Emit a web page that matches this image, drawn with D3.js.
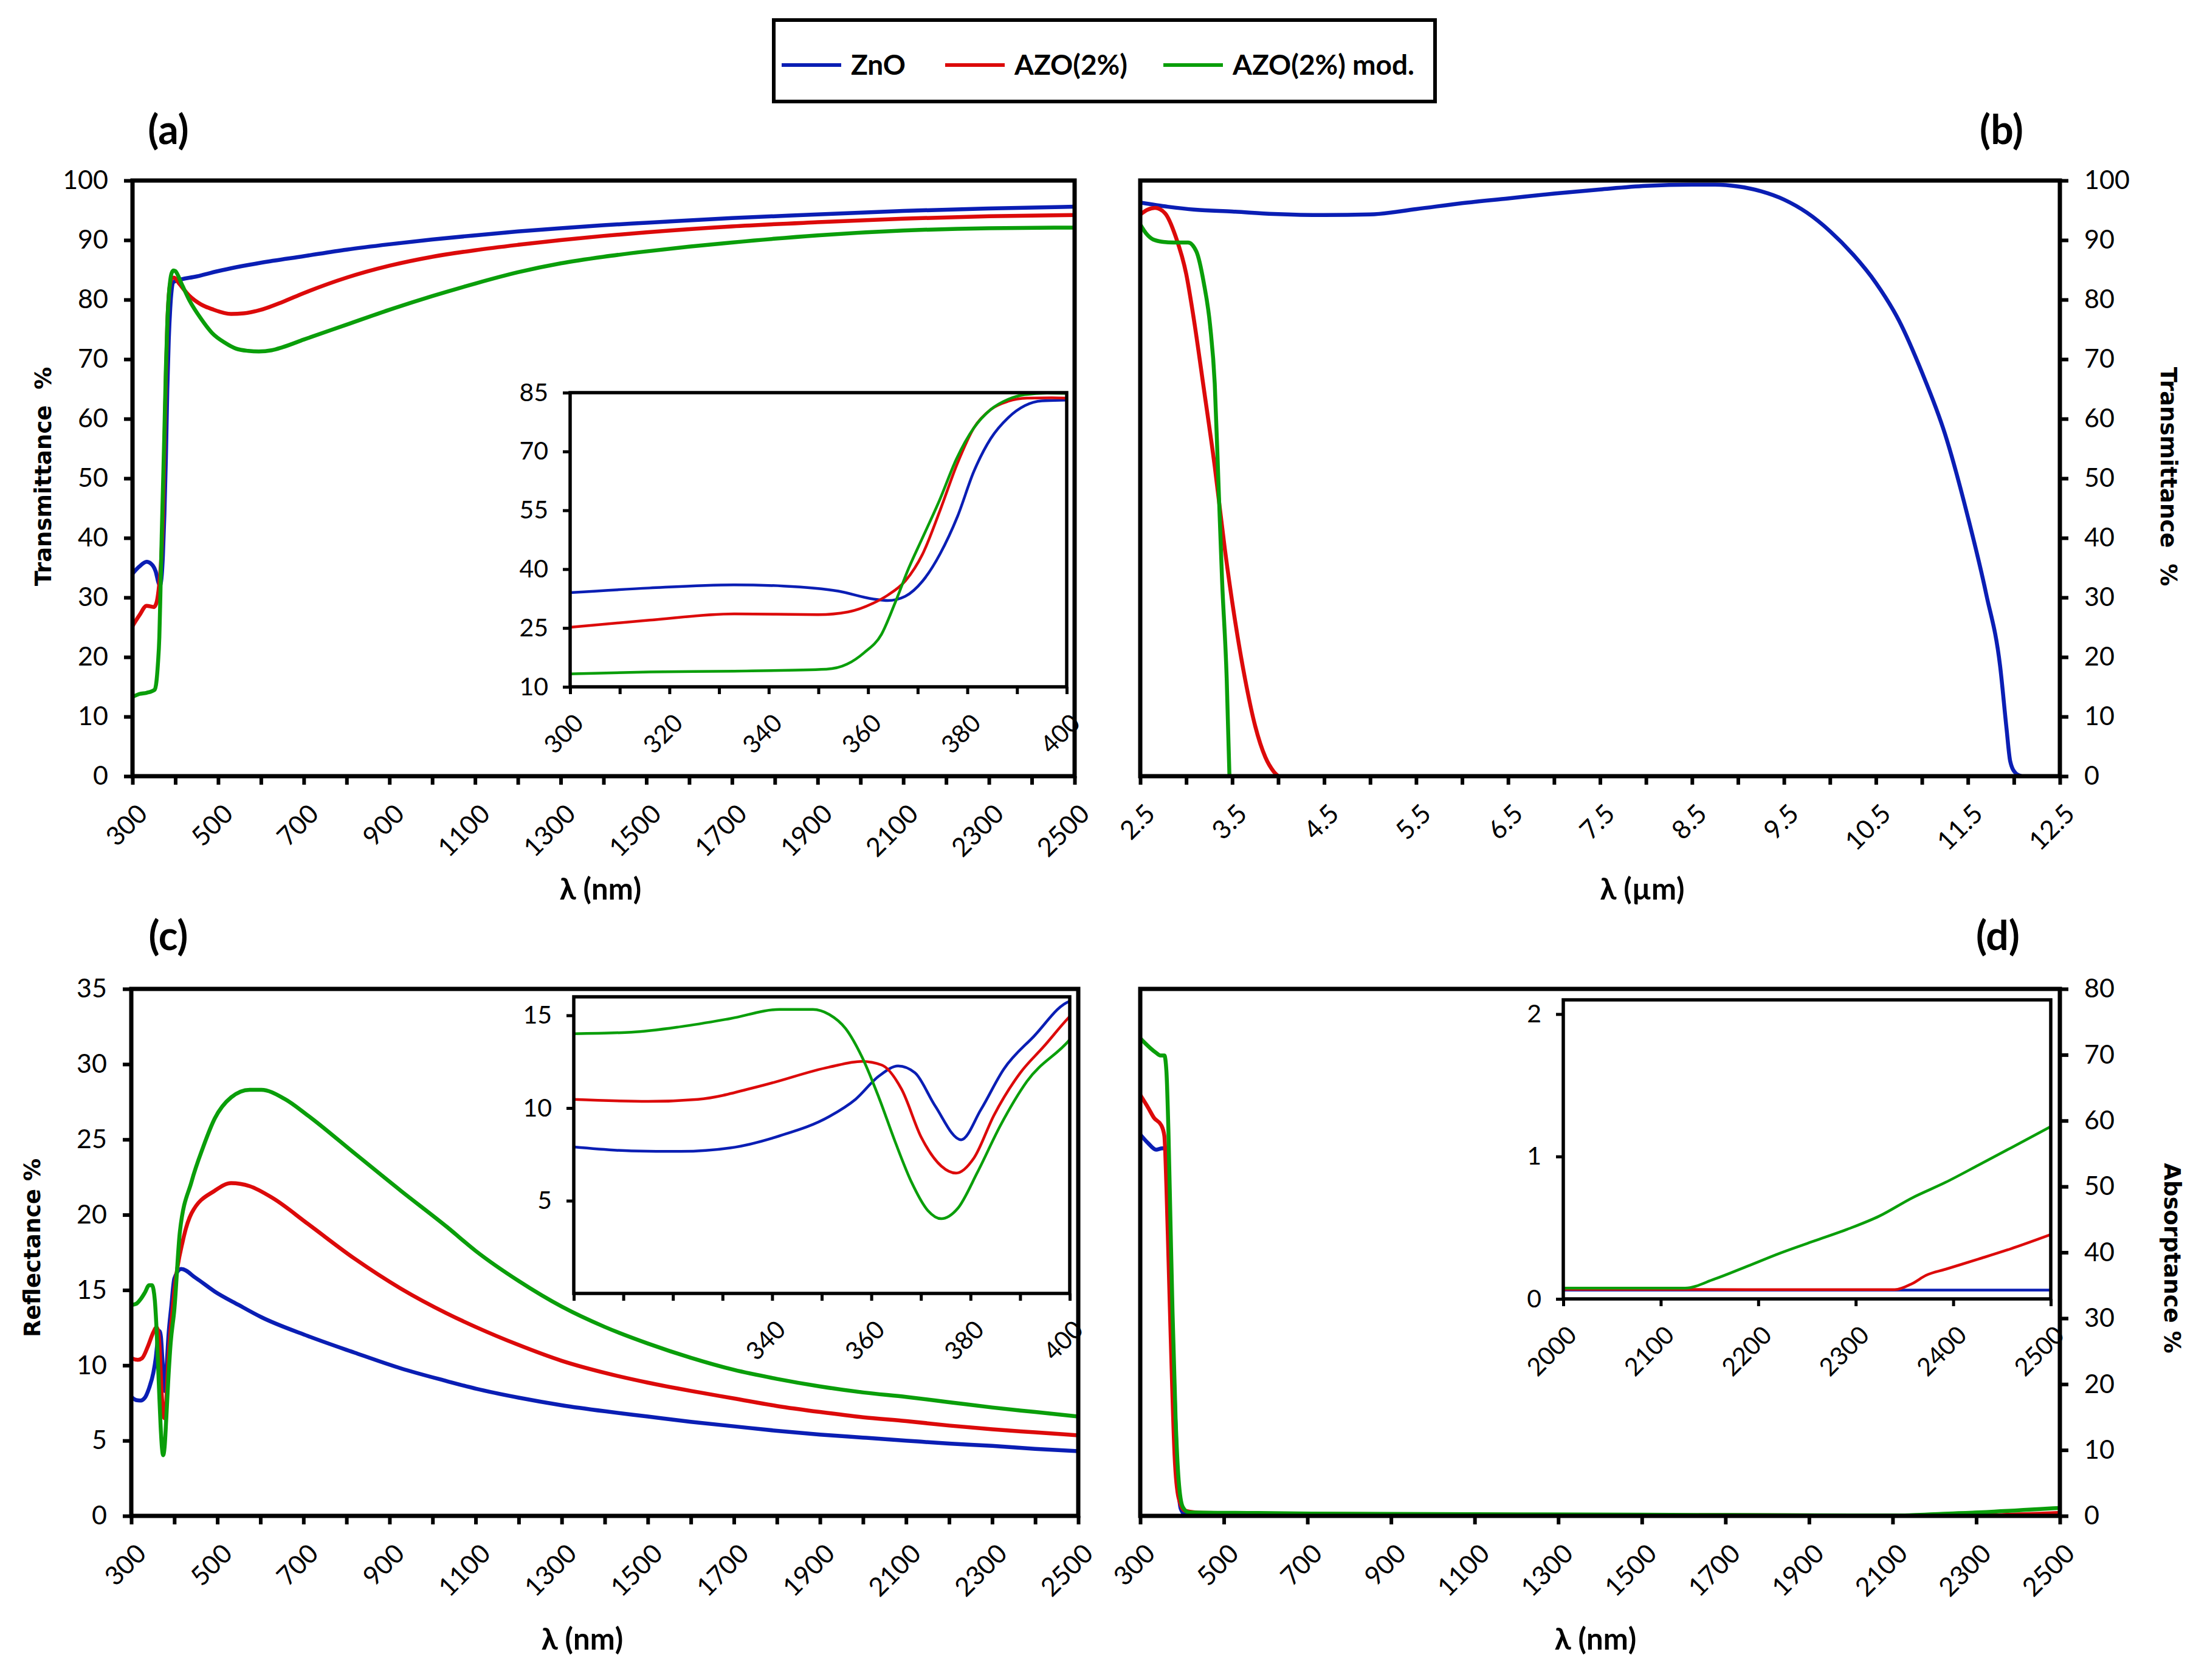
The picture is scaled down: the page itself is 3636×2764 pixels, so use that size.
<!DOCTYPE html>
<html>
<head>
<meta charset="utf-8">
<script src="https://cdn.jsdelivr.net/npm/d3@7"></script>
<style>
  body { margin: 0; background: #fff; }
</style>
</head>
<body>
<svg id="chart"></svg>
<script>
let width = 3636,
height = 2764

let svg = d3.select('#chart')
.attr('width', width)
.attr('height', height)

// series
const seriesNames = ['ZnO', 'AZO(2%)', 'AZO(2%) mod.']
const seriesColors = ['#0a1eb4', '#dc0a0a', '#0a9e0a']

// (a) transmittance, UV-VIS-NIR  [nm, %]
const transZnO = [[300,34.0],[316,35.2],[333,36.0],[343,35.7],[354,34.4],[361,32.4],[364,32.0],[367.5,33.1],[371,37.0],[374.5,43.9],[378,53.4],[381.3,64.9],[384.7,73.3],[388.2,78.6],[391.6,81.7],[395,82.9],[400,83.1],[450,83.9],[500,84.8],[600,86.2],[700,87.3],[800,88.4],[900,89.3],[1000,90.1],[1100,90.8],[1200,91.45],[1300,92.0],[1400,92.5],[1500,92.9],[1700,93.7],[1900,94.3],[2100,94.9],[2300,95.3],[2500,95.6]]
const transAZO = [[300,25.2],[316,27.0],[333,28.6],[350,28.4],[356,29.1],[361,31.3],[364,33.4],[367.5,37.0],[371,43.9],[374.5,55.0],[378,67.0],[381.3,76.0],[384.7,80.7],[388.2,82.8],[392,83.6],[397,83.7],[410,82.6],[432,80.7],[460,79.2],[486,78.4],[530,77.6],[560,77.7],[600,78.3],[650,79.6],[700,81.1],[800,83.7],[900,85.7],[1000,87.2],[1100,88.3],[1200,89.2],[1300,90.0],[1400,90.7],[1500,91.3],[1700,92.3],[1900,93.0],[2100,93.6],[2300,94.0],[2500,94.2]]
const transMod = [[300,13.3],[316,13.8],[333,14.0],[351.6,14.5],[355.8,15.8],[359.2,18.7],[362.7,23.4],[365.4,31.3],[368.2,40.3],[371,48.1],[374.4,57.6],[377.8,68.1],[381.3,76.0],[384.7,80.7],[388.2,83.3],[391.6,84.5],[396,84.9],[400,84.8],[415,82.6],[432,80.0],[460,76.8],[486,74.4],[515,72.8],[541,71.8],[570,71.4],[595,71.3],[625,71.5],[650,72.0],[700,73.3],[800,75.8],[900,78.3],[1000,80.6],[1100,82.7],[1200,84.6],[1300,86.1],[1400,87.2],[1500,88.1],[1600,88.9],[1700,89.6],[1900,90.8],[2100,91.6],[2300,92.0],[2500,92.1]]

// (b) transmittance, IR  [µm, %]
const irZnO = [[2.5,96.3],[2.8,95.6],[3.1,95.1],[3.5,94.8],[3.95,94.4],[4.5,94.2],[5.0,94.3],[5.5,95.2],[6.0,96.2],[6.5,97.0],[7.0,97.8],[7.5,98.5],[8.0,99.1],[8.5,99.3],[8.75,99.3],[9.0,99.0],[9.25,98.2],[9.5,96.8],[9.75,94.6],[10.0,91.5],[10.25,87.6],[10.5,82.8],[10.75,76.5],[11.0,67.8],[11.25,57.5],[11.5,43.5],[11.7,30.5],[11.85,18.5],[11.92,8.0],[11.96,2.5],[12.02,0.5],[12.08,0]]
const irAZO = [[2.5,94.3],[2.58,95.1],[2.66,95.4],[2.77,94.5],[2.885,90.6],[3.0,84.3],[3.08,77.0],[3.19,65.2],[3.31,52.0],[3.42,38.1],[3.53,26.2],[3.64,16.3],[3.75,8.4],[3.86,3.2],[3.95,0.8],[4.0,0]]
const irMod = [[2.5,92.6],[2.57,91.0],[2.64,90.1],[2.75,89.7],[2.86,89.6],[3.02,89.6],[3.11,88.1],[3.19,82.9],[3.26,75.6],[3.31,65.9],[3.35,49.4],[3.39,32.8],[3.44,16.4],[3.47,0]]

// (c) reflectance  [nm, %]
const reflZnO = [[300,7.9],[311.6,7.69],[321.6,7.66],[331.6,7.85],[341.5,8.5],[351.5,9.54],[356.8,10.47],[361.5,11.72],[365.4,12.27],[368.8,11.9],[372.8,10.14],[378.1,8.29],[382.1,9.92],[386.7,12.1],[392.7,13.85],[400,15.76],[416,16.4],[450,15.8],[494,14.9],[550,14.0],[602,13.2],[710,11.95],[818,10.85],[926,9.8],[1033,8.95],[1100,8.45],[1200,7.85],[1300,7.35],[1400,6.95],[1500,6.6],[1600,6.25],[1700,5.95],[1800,5.65],[1900,5.4],[2000,5.2],[2100,5.0],[2200,4.8],[2300,4.65],[2400,4.45],[2500,4.3]]
const reflAZO = [[300,10.47],[315,10.36],[325,10.47],[338.2,11.23],[351.5,12.21],[358.1,12.52],[362.1,12.32],[366.1,11.01],[370.1,8.4],[374.1,6.87],[377.1,6.49],[380.7,7.31],[384.7,9.6],[390,11.89],[394.7,13.3],[400,14.94],[420,18.3],[440,20.1],[494,21.6],[532,22.1],[575,21.9],[629,21.1],[710,19.4],[818,17.1],[926,15.1],[1033,13.45],[1100,12.55],[1200,11.35],[1300,10.3],[1400,9.5],[1500,8.85],[1600,8.3],[1700,7.8],[1800,7.3],[1900,6.9],[2000,6.55],[2100,6.3],[2200,6.0],[2300,5.75],[2400,5.55],[2500,5.35]]
const reflMod = [[300,14.01],[311.6,14.09],[321.6,14.39],[331.6,14.83],[341.5,15.32],[348.2,15.32],[351.5,15.05],[354.8,14.29],[358.1,12.76],[361.5,10.58],[364.8,8.18],[368.1,6.0],[371.4,4.47],[374.1,4.03],[377.4,4.58],[381.4,6.54],[386,9.05],[391.4,11.45],[400,13.69],[413,18.9],[440,22.2],[467,24.5],[494,26.4],[532,27.8],[575,28.3],[602,28.3],[656,27.7],[710,26.6],[818,24.1],[926,21.6],[1033,19.2],[1100,17.6],[1200,15.6],[1300,13.9],[1400,12.55],[1500,11.45],[1600,10.5],[1700,9.7],[1800,9.1],[1900,8.6],[2000,8.2],[2100,7.9],[2200,7.55],[2300,7.2],[2400,6.9],[2500,6.6]]

// (d) absorptance  [nm, %]
const absZnO = [[300,57.9],[318.6,56.6],[338,55.6],[352.8,55.8],[360,55.8],[365,52.8],[372.3,39.2],[379.7,22.9],[387,9.3],[396.8,1.1],[406.6,0.27],[450,0.15],[700,0.1],[1000,0.08],[1500,0.07],[2000,0.062],[2500,0.062]]
const absAZO = [[300,63.9],[318.6,62.0],[333.2,60.4],[350.3,59.3],[357.7,57.7],[362.6,50.0],[367.5,39.2],[374.8,22.9],[382.1,9.25],[391.9,2.7],[406.6,0.8],[450,0.45],[700,0.3],[1000,0.22],[1500,0.12],[2000,0.067],[2340,0.065],[2358,0.108],[2372,0.165],[2392,0.208],[2426,0.28],[2459,0.352],[2500,0.452]]
const absMod = [[300,72.5],[338,70.3],[348,69.9],[357.7,69.9],[362.6,67.5],[367.5,58.2],[372.3,44.6],[377.2,31.0],[384.6,14.7],[391.9,5.4],[401.7,1.36],[416,0.54],[563,0.44],[710,0.35],[1000,0.28],[1500,0.18],[1800,0.11],[2000,0.076],[2125,0.076],[2155,0.139],[2189,0.23],[2223,0.323],[2257,0.406],[2291,0.488],[2324,0.581],[2358,0.71],[2392,0.818],[2426,0.94],[2459,1.06],[2500,1.21]]

// ticks
const nmTicks = [300,400,500,600,700,800,900,1000,1100,1200,1300,1400,1500,1600,1700,1800,1900,2000,2100,2200,2300,2400,2500]
const nmLabels = [300,500,700,900,1100,1300,1500,1700,1900,2100,2300,2500]
const umTicks = [2.5,3,3.5,4,4.5,5,5.5,6,6.5,7,7.5,8,8.5,9,9.5,10,10.5,11,11.5,12,12.5]
const umLabels = [2.5,3.5,4.5,5.5,6.5,7.5,8.5,9.5,10.5,11.5,12.5]
const transTicks = [0,10,20,30,40,50,60,70,80,90,100]
const reflTicks = [0,5,10,15,20,25,30,35]
const absTicks = [0,10,20,30,40,50,60,70,80]
const insetNmTicks = [300,310,320,330,340,350,360,370,380,390,400]
const insetALabels = [300,320,340,360,380,400]
const insetAYTicks = [10,25,40,55,70,85]
const insetCLabels = [340,360,380,400]
const insetCYTicks = [5,10,15]
const insetDTicks = [2000,2100,2200,2300,2400,2500]
const insetDYTicks = [0,1,2]

// keep the points in range plus one neighbour on each side
let clipRange = (arr, lo, hi) => arr.filter((pt, i) => {
    let next = arr[i + 1], prev = arr[i - 1]
    return (pt[0] >= lo || (next && next[0] >= lo)) && (pt[0] <= hi || (prev && prev[0] <= hi))
})

let drawPanel = (p) => {
    let x = d3.scaleLinear().domain(p.xDomain).range([p.left, p.right])
    let y = d3.scaleLinear().domain(p.yDomain).range([p.bottom, p.top])
    let g = svg.append('g')

    g.append('rect')
    .attr('x', p.left).attr('y', p.top)
    .attr('width', p.right - p.left).attr('height', p.bottom - p.top)
    .attr('fill', '#fff')

    g.append('clipPath').attr('id', 'clip-' + p.id)
    .append('rect')
    .attr('x', p.left).attr('y', p.top)
    .attr('width', p.right - p.left).attr('height', p.bottom - p.top)

    let line = d3.line()
    .x((d) => x(d[0]))
    .y((d) => y(d[1]))
    .curve(d3.curveMonotoneX)

    g.append('g')
    .attr('clip-path', `url(#clip-${p.id})`)
    .selectAll('path')
    .data(p.data)
    .join('path')
    .attr('d', (d) => line(clipRange(d, p.xDomain[0], p.xDomain[1])))
    .attr('fill', 'none')
    .attr('stroke', (d, i) => seriesColors[i])
    .attr('stroke-width', p.lineW)
    .attr('stroke-linejoin', 'round')
    .attr('stroke-linecap', 'round')

    // x axis
    let xAxis = d3.axisBottom(x)
    .tickValues(p.xTicks)
    .tickSize(p.tick)
    .tickFormat((d) => p.xLabels.includes(d) ? p.fmtX(d) : '')

    let gx = g.append('g')
    .attr('transform', `translate(0,${p.bottom})`)
    .call(xAxis)
    gx.select('.domain').remove()
    gx.selectAll('.tick line').attr('stroke', '#000').attr('stroke-width', p.tickW)
    gx.selectAll('.tick text')
    .attr('x', 0).attr('y', 0).attr('dy', '0.35em')
    .attr('transform', `translate(${p.labX},${p.labY}) rotate(-45)`)
    .style('text-anchor', 'end')
    .attr('font-family', 'Lato, sans-serif')
    .attr('font-size', p.fontSize)
    .attr('fill', '#000')

    // y axis
    let yAxis = (p.ySide === 'right' ? d3.axisRight(y) : d3.axisLeft(y))
    .tickValues(p.yTicks)
    .tickSize(p.tick)
    .tickPadding(p.yPad)
    .tickFormat(fmtInt)

    let gy = g.append('g')
    .attr('transform', `translate(${p.ySide === 'right' ? p.right : p.left},0)`)
    .call(yAxis)
    gy.select('.domain').remove()
    gy.selectAll('.tick line').attr('stroke', '#000').attr('stroke-width', p.tickW)
    gy.selectAll('.tick text')
    .attr('font-family', 'Lato, sans-serif')
    .attr('font-size', p.fontSize)
    .attr('fill', '#000')

    g.append('rect')
    .attr('x', p.left).attr('y', p.top)
    .attr('width', p.right - p.left).attr('height', p.bottom - p.top)
    .attr('fill', 'none')
    .attr('stroke', '#000')
    .attr('stroke-width', p.frameW)
}

let fmtInt = (d) => String(d)
let fmtOne = (d) => d.toFixed(1)

let mainStyle = { tick: 14, tickW: 6, frameW: 7, lineW: 6.5, fontSize: 43, yPad: 26, labX: 16, labY: 54 }
let insetStyle = { tick: 12, tickW: 5, frameW: 5.5, lineW: 4.5, fontSize: 41, yPad: 24, labX: 14, labY: 52 }

let panels = [
    Object.assign({ id: 'a', left: 218, right: 1768, top: 297, bottom: 1277, xDomain: [300, 2500], yDomain: [0, 100],
        xTicks: nmTicks, xLabels: nmLabels, fmtX: fmtInt, yTicks: transTicks, ySide: 'left',
        data: [transZnO, transAZO, transMod] }, mainStyle),
    Object.assign({ id: 'b', left: 1876, right: 3389, top: 297, bottom: 1277, xDomain: [2.5, 12.5], yDomain: [0, 100],
        xTicks: umTicks, xLabels: umLabels, fmtX: fmtOne, yTicks: transTicks, ySide: 'right',
        data: [irZnO, irAZO, irMod] }, mainStyle),
    Object.assign({ id: 'c', left: 216, right: 1774, top: 1627, bottom: 2494, xDomain: [300, 2500], yDomain: [0, 35],
        xTicks: nmTicks, xLabels: nmLabels, fmtX: fmtInt, yTicks: reflTicks, ySide: 'left',
        data: [reflZnO, reflAZO, reflMod] }, mainStyle),
    Object.assign({ id: 'd', left: 1876, right: 3389, top: 1627, bottom: 2494, xDomain: [300, 2500], yDomain: [0, 80],
        xTicks: nmLabels, xLabels: nmLabels, fmtX: fmtInt, yTicks: absTicks, ySide: 'right',
        data: [absZnO, absAZO, absMod] }, mainStyle),
    Object.assign({ id: 'ia', left: 938, right: 1755, top: 646, bottom: 1130, xDomain: [300, 400], yDomain: [10, 85],
        xTicks: insetNmTicks, xLabels: insetALabels, fmtX: fmtInt, yTicks: insetAYTicks, ySide: 'left',
        data: [transZnO, transAZO, transMod] }, insetStyle),
    Object.assign({ id: 'ic', left: 944, right: 1760, top: 1640, bottom: 2128, xDomain: [300, 400], yDomain: [0, 16],
        xTicks: insetNmTicks, xLabels: insetCLabels, fmtX: fmtInt, yTicks: insetCYTicks, ySide: 'left',
        data: [reflZnO, reflAZO, reflMod] }, insetStyle),
    Object.assign({ id: 'id', left: 2572, right: 3374, top: 1645, bottom: 2137, xDomain: [2000, 2500], yDomain: [0, 2.1],
        xTicks: insetDTicks, xLabels: insetDTicks, fmtX: fmtInt, yTicks: insetDYTicks, ySide: 'left',
        data: [absZnO, absAZO, absMod] }, insetStyle)
]

panels.forEach(drawPanel)

// panel letters
svg.selectAll('text.letter')
.data([['(a)', 277, 237], ['(b)', 3293, 237], ['(c)', 277, 1563], ['(d)', 3287, 1563]])
.join('text')
.attr('class', 'letter')
.attr('x', (d) => d[1]).attr('y', (d) => d[2])
.attr('text-anchor', 'middle')
.attr('font-family', 'Lato, sans-serif')
.attr('font-weight', 'bold')
.attr('font-size', 66)
.text((d) => d[0])

// x titles
svg.selectAll('text.xtitle')
.data([['λ (nm)', 988, 1480], ['λ (µm)', 2702, 1480], ['λ (nm)', 958, 2714], ['λ (nm)', 2625, 2714]])
.join('text')
.attr('class', 'xtitle')
.attr('x', (d) => d[1]).attr('y', (d) => d[2])
.attr('text-anchor', 'middle')
.attr('font-family', 'Lato, sans-serif')
.attr('font-weight', 'bold')
.attr('font-size', 49)
.text((d) => d[0])

// y titles
svg.selectAll('text.ytitle')
.data([['Transmittance  %', 84, 784, -90], ['Transmittance  %', 3555, 784, 90], ['Reflectance %', 66, 2053, -90], ['Absorptance %', 3561, 2070, 90]])
.join('text')
.attr('class', 'ytitle')
.attr('transform', (d) => `translate(${d[1]},${d[2]}) rotate(${d[3]})`)
.attr('text-anchor', 'middle')
.attr('font-family', 'DejaVu Sans, sans-serif')
.attr('font-weight', 'bold')
.attr('font-size', 37)
.style('white-space', 'pre')
.text((d) => d[0])

// legend
let legend = svg.append('g')
legend.append('rect')
.attr('x', 1273).attr('y', 33).attr('width', 1088).attr('height', 134)
.attr('fill', '#fff').attr('stroke', '#000').attr('stroke-width', 6)

let legendX = [1286, 1555, 1914]
let items = legend.selectAll('g.item')
.data(seriesNames)
.join('g')
.attr('class', 'item')
.attr('transform', (d, i) => `translate(${legendX[i]},107)`)

items.append('line')
.attr('x1', 0).attr('x2', 98).attr('y1', 0).attr('y2', 0)
.attr('stroke', (d, i) => seriesColors[i])
.attr('stroke-width', 6)

items.append('text')
.attr('x', 114).attr('y', 16)
.attr('font-family', 'Lato, sans-serif')
.attr('font-weight', 'bold')
.attr('font-size', 46)
.text((d) => d)
</script>
</body>
</html>
